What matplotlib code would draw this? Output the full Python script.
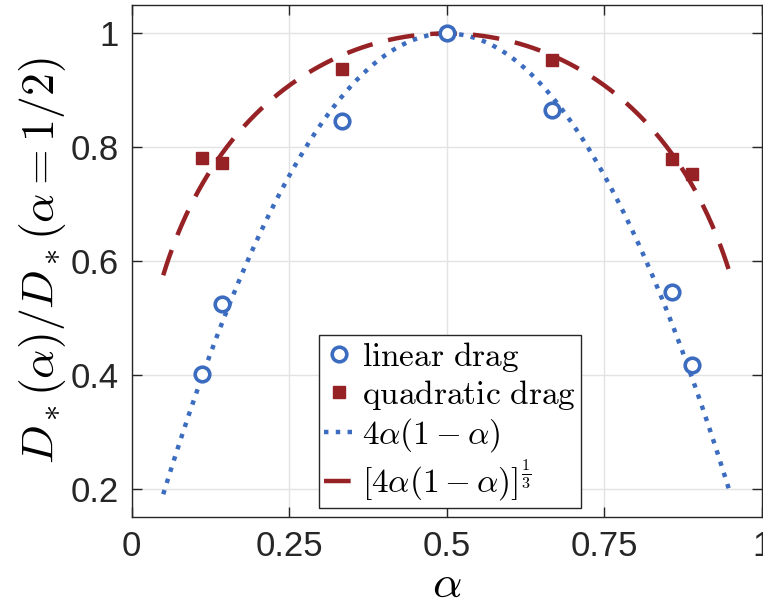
import numpy as np
import matplotlib
matplotlib.use("Agg")
import matplotlib.pyplot as plt

plt.rcParams["mathtext.fontset"] = "cm"
plt.rcParams["font.family"] = ["Liberation Sans", "DejaVu Sans"]

alpha_pts = [1/9, 1/7, 1/3, 1/2, 2/3, 6/7, 8/9]
linear_drag = [0.402, 0.524, 0.846, 1.0, 0.865, 0.545, 0.418]
quadratic_drag = [0.781, 0.772, 0.937, 1.0, 0.954, 0.779, 0.753]

# theory curves over alpha in [0.05, 0.95]
alpha_min, alpha_max = 0.05, 0.95
x_ticks = [0, 0.25, 0.5, 0.75, 1]
x_tick_labels = ["0", "0.25", "0.5", "0.75", "1"]
y_ticks = [0.2, 0.4, 0.6, 0.8, 1.0]
y_tick_labels = ["0.2", "0.4", "0.6", "0.8", "1"]

blue = "#3b6cbf"
red = "#962226"

a = np.linspace(alpha_min, alpha_max, 400)
lin_theory = 4 * a * (1 - a)
quad_theory = lin_theory ** (1 / 3)

fig = plt.figure(figsize=(7.63, 6.12), dpi=100)
ax = fig.add_axes([131.7 / 763, (612 - 517) / 612, (762 - 131.7) / 763, (517 - 5) / 612])

ax.plot(alpha_pts, linear_drag, "o", ms=10.5, mfc="white", mec=blue, mew=2.6,
        label=r"$\mathrm{linear\ drag}$", zorder=4)
ax.plot(alpha_pts, quadratic_drag, "s", ms=8.5, mfc=red, mec=red,
        label=r"$\mathrm{quadratic\ drag}$", zorder=3)
ax.plot(a, lin_theory, ":", color=blue, lw=3.2, label=r"$4\alpha(1-\alpha)$", zorder=2)
ax.plot(a, quad_theory, "--", color=red, lw=3.2, dashes=(6, 3.6),
        label=r"$[4\alpha(1-\alpha)]^{\frac{1}{3}}$", zorder=2)

ax.set_xlim(0, 1)
ax.set_ylim(0.15, 1.05)
ax.set_xticks(x_ticks)
ax.set_xticklabels(x_tick_labels)
ax.set_yticks(y_ticks)
ax.set_yticklabels(y_tick_labels)
ax.grid(True, color="#e3e3e3", lw=1)
ax.set_axisbelow(True)
ax.tick_params(direction="in", length=7, width=1, top=True, right=True,
               labelsize=25, colors="#262626", pad=9)
for sp in ax.spines.values():
    sp.set_color("#262626")
    sp.set_linewidth(1)

ax.set_xlabel(r"$\alpha$", fontsize=33, labelpad=0)
ax.set_ylabel(r"$D_*(\alpha)/D_*(\alpha=1/2)$", fontsize=33, labelpad=2)

leg = ax.legend(loc="lower left", bbox_to_anchor=(0.297, 0.018), borderaxespad=0,
                fontsize=24, handlelength=0.9, handletextpad=0.25, labelspacing=0.12,
                borderpad=0.15, fancybox=False, framealpha=1, edgecolor="#262626")
leg.get_frame().set_linewidth(1)

fig.savefig("out.png", dpi=100)
